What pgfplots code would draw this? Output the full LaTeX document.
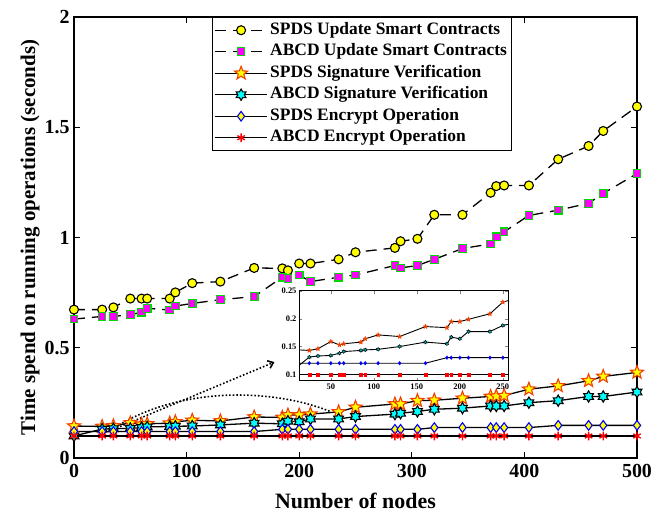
\documentclass[border=0pt]{standalone}
\usepackage{fontspec}
\setmainfont{Liberation Serif}
\usepackage{pgfplots}
\pgfplotsset{compat=1.18}
\usepackage{pgfplotstable}
\usetikzlibrary{arrows.meta}

\definecolor{myyellow}{rgb}{1,1,0}
\definecolor{mymag}{rgb}{1,0,1}
\definecolor{mygreen}{rgb}{0,0.85,0}
\definecolor{starred}{rgb}{0.95,0.25,0}
\definecolor{mycyan}{rgb}{0,1,1}
\definecolor{myblue}{rgb}{0,0,1}
\definecolor{myred}{rgb}{1,0,0}

\pgfdeclareplotmark{pentastar}{%
  \pgfpathmoveto{\pgfqpointpolar{90}{1.3\pgfplotmarksize}}%
  \pgfpathlineto{\pgfqpointpolar{126}{0.55\pgfplotmarksize}}%
  \pgfpathlineto{\pgfqpointpolar{162}{1.3\pgfplotmarksize}}%
  \pgfpathlineto{\pgfqpointpolar{198}{0.55\pgfplotmarksize}}%
  \pgfpathlineto{\pgfqpointpolar{234}{1.3\pgfplotmarksize}}%
  \pgfpathlineto{\pgfqpointpolar{270}{0.55\pgfplotmarksize}}%
  \pgfpathlineto{\pgfqpointpolar{306}{1.3\pgfplotmarksize}}%
  \pgfpathlineto{\pgfqpointpolar{342}{0.55\pgfplotmarksize}}%
  \pgfpathlineto{\pgfqpointpolar{18}{1.3\pgfplotmarksize}}%
  \pgfpathlineto{\pgfqpointpolar{54}{0.55\pgfplotmarksize}}%
  \pgfpathclose
  \pgfusepathqfillstroke
}
\pgfdeclareplotmark{hexstar}{%
  \pgfpathmoveto{\pgfqpointpolar{90}{1.2\pgfplotmarksize}}%
  \pgfpathlineto{\pgfqpointpolar{120}{0.7\pgfplotmarksize}}%
  \pgfpathlineto{\pgfqpointpolar{150}{1.2\pgfplotmarksize}}%
  \pgfpathlineto{\pgfqpointpolar{180}{0.7\pgfplotmarksize}}%
  \pgfpathlineto{\pgfqpointpolar{210}{1.2\pgfplotmarksize}}%
  \pgfpathlineto{\pgfqpointpolar{240}{0.7\pgfplotmarksize}}%
  \pgfpathlineto{\pgfqpointpolar{270}{1.2\pgfplotmarksize}}%
  \pgfpathlineto{\pgfqpointpolar{300}{0.7\pgfplotmarksize}}%
  \pgfpathlineto{\pgfqpointpolar{330}{1.2\pgfplotmarksize}}%
  \pgfpathlineto{\pgfqpointpolar{0}{0.7\pgfplotmarksize}}%
  \pgfpathlineto{\pgfqpointpolar{30}{1.2\pgfplotmarksize}}%
  \pgfpathlineto{\pgfqpointpolar{60}{0.7\pgfplotmarksize}}%
  \pgfpathclose
  \pgfusepathqfillstroke
}

\pgfplotstableread{
x   su    au    ss    as    se    ae
0   0.673 0.630 0.145 0.100 0.120 0.100
25  0.673 0.642 0.143 0.131 0.120 0.100
35  0.683 0.642 0.146 0.133 0.120 0.100
50  0.723 0.650 0.159 0.134 0.120 0.100
60  0.723 0.661 0.153 0.138 0.120 0.100
65  0.723 0.679 0.155 0.141 0.120 0.100
85  0.723 0.671 0.158 0.143 0.120 0.100
90  0.751 0.689 0.164 0.144 0.120 0.100
105 0.793 0.701 0.171 0.145 0.120 0.100
130 0.800 0.718 0.168 0.150 0.120 0.100
160 0.862 0.732 0.186 0.158 0.120 0.100
185 0.860 0.820 0.184 0.155 0.130 0.100
190 0.851 0.815 0.195 0.167 0.130 0.100
200 0.882 0.830 0.195 0.164 0.130 0.100
210 0.882 0.800 0.199 0.177 0.130 0.100
235 0.901 0.820 0.209 0.177 0.130 0.100
250 0.933 0.830 0.230 0.188 0.130 0.100
285 0.953 0.873 0.245 0.199 0.130 0.100
290 0.983 0.862 0.245 0.203 0.130 0.100
305 0.994 0.873 0.260 0.211 0.130 0.100
320 1.103 0.901 0.262 0.221 0.138 0.100
345 1.103 0.950 0.271 0.226 0.138 0.100
370 1.203 0.971 0.279 0.236 0.138 0.100
375 1.233 1.003 0.280 0.236 0.138 0.100
382 1.236 1.026 0.283 0.236 0.138 0.100
404 1.236 1.100 0.312 0.251 0.138 0.100
430 1.355 1.124 0.327 0.260 0.148 0.100
457 1.415 1.155 0.350 0.279 0.148 0.100
470 1.483 1.200 0.370 0.279 0.148 0.100
500 1.594 1.290 0.388 0.299 0.148 0.100
}\data

\begin{document}
\begin{tikzpicture}
\begin{axis}[
  name=main,
  scale only axis,
  width=563bp, height=441bp,
  xmin=0, xmax=500, ymin=0, ymax=2,
  xtick={0,100,200,300,400,500},
  ytick={0,0.5,1,1.5,2},
  tick align=inside,
  major tick length=6bp,
  axis line style={line width=1.2bp},
  every tick/.style={line width=1bp, black},
  /pgf/number format/assume math mode=true,
  ticklabel style={font=\bfseries\fontsize{20}{20}\selectfont},
  xticklabel style={yshift=-3bp},
  yticklabel style={xshift=-1bp},
  xlabel={Number of nodes},
  ylabel={Time spend on running operations (seconds)},
  xlabel style={font=\bfseries\fontsize{22}{22}\selectfont},
  ylabel style={font=\bfseries\fontsize{21}{21}\selectfont},
  xlabel shift={8bp},
  ylabel shift={-2bp},
  legend cell align=left,
  legend style={at={(0.245,1)}, anchor=north west, draw=black, line width=1bp,
    inner sep=2bp, row sep=0bp,
    font=\bfseries\fontsize{17.5}{17.5}\selectfont,
    nodes={text height=12.5bp, text depth=4bp, inner sep=2.5bp}},
  legend image code/.code={\draw[mark repeat=2,mark phase=2,#1] plot coordinates {(0bp,0bp) (26bp,0bp) (52bp,0bp)};},
]
\addplot[black, line width=1.3bp, dash pattern=on 11bp off 7bp, mark=*, mark size=4.5bp,
  mark options={solid, fill=myyellow, draw=black, line width=1.1bp}] table[x=x,y=su]{\data};
\addlegendentry{SPDS Update Smart Contracts}
\addplot[black, line width=1.3bp, dash pattern=on 11bp off 7bp, mark=square*, mark size=3.8bp,
  mark options={solid, fill=mymag, draw=mygreen, line width=1.1bp}] table[x=x,y=au]{\data};
\addlegendentry{ABCD Update Smart Contracts}
\addplot[black, line width=1.3bp, mark=pentastar, mark size=5.3bp,
  mark options={solid, fill=myyellow, draw=starred, line width=1.1bp}] table[x=x,y=ss]{\data};
\addlegendentry{SPDS Signature Verification}
\addplot[black, line width=1.3bp, mark=hexstar, mark size=4.7bp,
  mark options={solid, fill=mycyan, draw=black, line width=1.1bp}] table[x=x,y=as]{\data};
\addlegendentry{ABCD Signature Verification}
\addplot[black, line width=1.3bp, mark=diamond*, mark size=4.8bp,
  mark options={solid, fill=myyellow, draw=myblue, line width=1.1bp}] table[x=x,y=se]{\data};
\addlegendentry{SPDS Encrypt Operation}
\addplot[black, line width=1.3bp, mark=asterisk, mark size=4.3bp,
  mark options={solid, draw=myred, line width=1.4bp}] table[x=x,y=ae]{\data};
\addlegendentry{ABCD Encrypt Operation}
\draw[black, line width=1.6bp, dash pattern=on 1.6bp off 2bp, -{Straight Barb[length=5bp,width=8bp]}]
  (axis cs:35,0.13) -- (axis cs:178,0.435);
\draw[black, line width=1.6bp, dash pattern=on 1.6bp off 2bp]
  (axis cs:40,0.15) .. controls (axis cs:100,0.33) and (axis cs:180,0.31) .. (axis cs:228,0.21);
\end{axis}
\begin{axis}[
  at={(225bp,77bp)}, anchor=south west,
  scale only axis,
  width=209bp, height=90bp,
  xmin=13, xmax=256, ymin=0.088, ymax=0.25,
  xtick={50,100,150,200,250},
  ytick={0.1,0.15,0.2,0.25},
  tick align=inside,
  major tick length=3bp,
  axis background/.style={fill=white},
  axis line style={line width=1bp},
  /pgf/number format/assume math mode=true,
  ticklabel style={font=\bfseries\fontsize{8.5}{8.5}\selectfont},
  xticklabel style={yshift=1bp},
  yticklabel style={xshift=1bp},
  clip=true,
]
\addplot[black, line width=0.9bp, mark=pentastar, mark size=1.8bp,
  mark options={solid, fill=starred, draw=starred, line width=0.4bp}] table[x=x,y=ss]{\data};
\addplot[black, line width=0.9bp, mark=hexstar, mark size=1.6bp,
  mark options={solid, fill=mycyan!70!black, draw=black, line width=0.4bp}] table[x=x,y=as]{\data};
\addplot[black, line width=0.9bp, mark=diamond*, mark size=1.8bp,
  mark options={solid, fill=myblue, draw=myblue, line width=0.4bp}] table[x=x,y=se]{\data};
\addplot[black, line width=0.9bp, mark=square*, mark size=1.4bp,
  mark options={solid, fill=myred, draw=myred, line width=0.4bp}] table[x=x,y=ae]{\data};
\end{axis}
\pgfresetboundingbox
\path[use as bounding box] (-74bp,-59bp) rectangle (580bp,458bp);
\end{tikzpicture}
\end{document}
